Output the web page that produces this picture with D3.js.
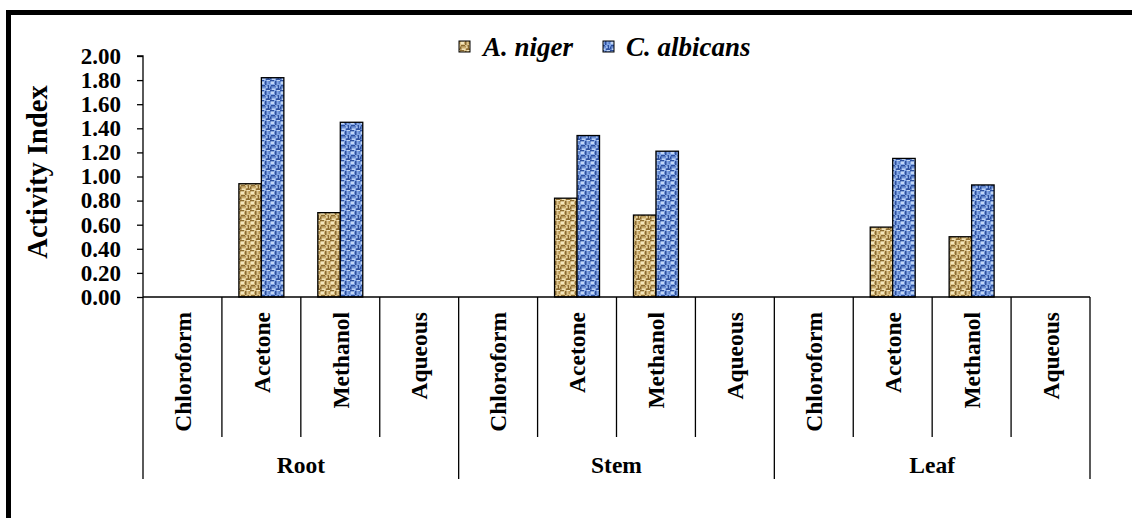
<!DOCTYPE html>
<html>
<head>
<meta charset="utf-8">
<script src="https://cdn.jsdelivr.net/npm/d3@7"></script>
<style>
  html, body { margin: 0; padding: 0; background: #fff; }
  svg { display: block; }
  svg text { font-family: "Liberation Serif", Tinos, "Times New Roman", "DejaVu Serif", serif; font-weight: bold; fill: #000; }
</style>
</head>
<body>
<svg id="chart" width="1132" height="518"></svg>
<script>
// Plant parts (outer grouping) and extraction solvents (inner categories)
const groups = ["Root", "Stem", "Leaf"];
const solvents = ["Chloroform", "Acetone", "Methanol", "Aqueous"];
const seriesNames = ["A. niger", "C. albicans"];

// Activity index per solvent, in group order Root / Stem / Leaf
const nigerValues    = [0, 0.94, 0.70, 0,   0, 0.82, 0.68, 0,   0, 0.58, 0.50, 0];
const albicansValues = [0, 1.82, 1.45, 0,   0, 1.34, 1.21, 0,   0, 1.15, 0.93, 0];

const yTicks = [0, 0.2, 0.4, 0.6, 0.8, 1.0, 1.2, 1.4, 1.6, 1.8, 2.0];

const serif = '"Liberation Serif", Tinos, "Times New Roman", "DejaVu Serif", serif';
const svg = d3.select("#chart");
const W = 1132, H = 518;
const plotLeft = 143, plotRight = 1090, plotTop = 56, plotBottom = 297;

// ---- fill patterns ----
const defs = svg.append("defs");
function weave(id, base, dark, mid, light) {
  const p = defs.append("pattern").attr("id", id)
    .attr("patternUnits", "userSpaceOnUse").attr("width", 10).attr("height", 10);
  p.append("rect").attr("width", 10).attr("height", 10).attr("fill", base);
  const darkBits  = [[0,0,4,1.5],[5,1,1.5,4],[1,5,4,1.5],[7.5,5,1.5,4],[6,8.5,4,1.5],[0,6.5,1.5,3]];
  const midBits   = [[3,2,1.5,2],[8.5,1,1.5,3],[2,7.5,3,1],[5,6,1,1.5]];
  const lightBits = [[1,1.5,3,2.5],[6.5,6.5,1,1.5],[2,8.5,3,1.5],[7,0,3,1]];
  darkBits.forEach(r => p.append("rect").attr("x", r[0]).attr("y", r[1]).attr("width", r[2]).attr("height", r[3]).attr("fill", dark));
  midBits.forEach(r => p.append("rect").attr("x", r[0]).attr("y", r[1]).attr("width", r[2]).attr("height", r[3]).attr("fill", mid));
  lightBits.forEach(r => p.append("rect").attr("x", r[0]).attr("y", r[1]).attr("width", r[2]).attr("height", r[3]).attr("fill", light));
}
weave("pat-niger", "#dcc48c", "#8a6a30", "#b8944f", "#f4e6bd");
weave("pat-albicans", "#85a8e6", "#2c4f9e", "#5a7fc8", "#c2d6f6");
const fills = ["url(#pat-niger)", "url(#pat-albicans)"];

// ---- frame ----
svg.append("path")
  .attr("d", `M8.5,${H} V12.5 H${W}`)
  .attr("fill", "none").attr("stroke", "#000").attr("stroke-width", 5);

// ---- scales ----
const keys = [];
groups.forEach(g => solvents.forEach(s => keys.push(g + "|" + s)));

const x0 = d3.scaleBand().domain(keys).range([plotLeft, plotRight]).padding(0);
const x1 = d3.scaleBand().domain(seriesNames).range([0, x0.bandwidth()])
  .paddingInner(0).paddingOuter(0.755);
const y = d3.scaleLinear().domain([0, 2]).range([plotBottom, plotTop]);

// ---- bars ----
const barData = [];
keys.forEach((k, i) => {
  barData.push({ key: k, series: seriesNames[0], value: nigerValues[i], s: 0 });
  barData.push({ key: k, series: seriesNames[1], value: albicansValues[i], s: 1 });
});

svg.append("g").selectAll("rect")
  .data(barData.filter(d => d.value > 0))
  .join("rect")
  .attr("x", d => x0(d.key) + x1(d.series))
  .attr("y", d => y(d.value))
  .attr("width", x1.bandwidth())
  .attr("height", d => y(0) - y(d.value))
  .attr("fill", d => fills[d.s])
  .attr("stroke", "#000").attr("stroke-width", 1.3);

// ---- y axis ----
const yAxis = d3.axisLeft(y).tickValues(yTicks).tickFormat(d3.format(".2f"))
  .tickSize(6).tickPadding(16);
const ya = svg.append("g").attr("transform", `translate(${plotLeft},0)`).call(yAxis);
ya.attr("font-family", null).attr("font-size", null);
ya.select(".domain").attr("stroke", "#000").attr("stroke-width", 1.3).attr("d", `M-6,${plotTop}H0V${plotBottom}`);
ya.selectAll(".tick line").attr("stroke", "#000").attr("stroke-width", 1.3);
ya.selectAll(".tick text")
  .style("font-family", serif)
  .style("font-weight", "bold").style("font-size", "23px").attr("fill", "#000");

svg.append("text")
  .attr("transform", `translate(47,172) rotate(-90)`)
  .attr("text-anchor", "middle")
  .style("font-family", serif)
  .style("font-size", "28.5px")
  .text("Activity Index");

// ---- x axis with two-level categories ----
const xa = svg.append("g").attr("stroke", "#000").attr("stroke-width", 1.3);
xa.append("line").attr("x1", plotLeft).attr("x2", plotRight).attr("y1", plotBottom).attr("y2", plotBottom);

keys.forEach((k, i) => {
  const xb = x0(k);
  const isGroupEdge = i % solvents.length === 0;
  xa.append("line").attr("x1", xb).attr("x2", xb)
    .attr("y1", plotBottom).attr("y2", isGroupEdge ? 479 : 437);
});
xa.append("line").attr("x1", plotRight).attr("x2", plotRight).attr("y1", plotBottom).attr("y2", 479);

svg.append("g").selectAll("text")
  .data(keys)
  .join("text")
  .attr("transform", d => `translate(${x0(d) + x0.bandwidth() / 2},312) rotate(-90)`)
  .attr("text-anchor", "end")
  .attr("dy", "0.35em")
  .style("font-family", serif)
  .style("font-size", "23.5px")
  .text(d => d.split("|")[1]);

const groupWidth = x0.bandwidth() * solvents.length;
svg.append("g").selectAll("text")
  .data(groups)
  .join("text")
  .attr("x", (g, i) => plotLeft + groupWidth * (i + 0.5))
  .attr("y", 473)
  .attr("text-anchor", "middle")
  .style("font-family", serif)
  .style("font-size", "23.5px")
  .text(d => d);

// ---- legend ----
const legend = svg.append("g");
const legendItems = [
  { name: seriesNames[0], box: 459, text: 483 },
  { name: seriesNames[1], box: 603, text: 626 }
];
legendItems.forEach((d, i) => {
  legend.append("rect").attr("x", d.box).attr("y", 41).attr("width", 11).attr("height", 11)
    .attr("fill", fills[i]).attr("stroke", "#000").attr("stroke-width", 1);
  legend.append("text").attr("x", d.text).attr("y", 56)
    .style("font-family", serif)
    .style("font-style", "italic").style("font-size", "27px")
    .text(d.name);
});
</script>
</body>
</html>
